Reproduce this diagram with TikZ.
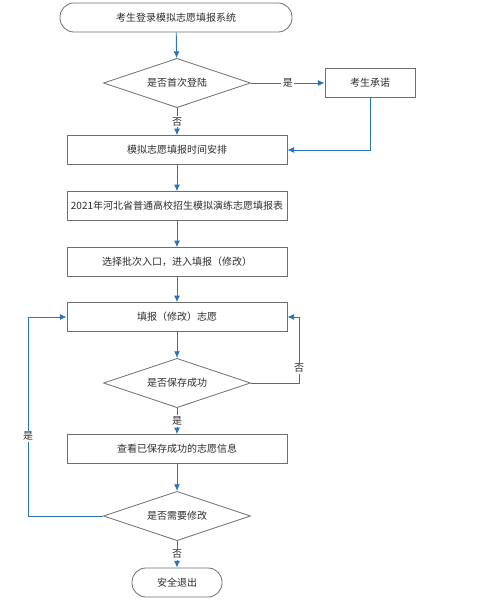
\documentclass[tikz,border=0pt]{standalone}
\usepackage{fontspec}
\newfontfamily\cjk{Noto Sans CJK SC}
\usetikzlibrary{shapes.geometric,arrows.meta}
\definecolor{lineblue}{RGB}{40,118,184}
\definecolor{boxgray}{RGB}{110,110,110}
\definecolor{txtgray}{RGB}{45,45,45}
\tikzset{
  base/.style={draw=boxgray,line width=0.6pt,text=txtgray,inner sep=0pt,font=\cjk\fontsize{7.5}{9}\selectfont},
  procbox/.style={base,rectangle,minimum width=165pt,minimum height=21.5pt},
  smallbox/.style={base,rectangle,minimum width=67.5pt,minimum height=21.5pt},
  termbox/.style={base,rectangle,rounded corners=10.5pt,minimum height=21.75pt},
  decbox/.style={base,diamond,aspect=3,minimum width=110.25pt,minimum height=37pt},
  flow/.style={draw=lineblue,line width=0.7pt,-{Latex[length=5pt,width=4.5pt]}},
  lab/.style={fill=white,text=txtgray,inner sep=1pt,font=\cjk\fontsize{7.5}{9}\selectfont}
}
\begin{document}
\begin{tikzpicture}[x=0.75pt,y=-0.75pt]
\useasboundingbox (0,0) rectangle (483,600);
\node[termbox,minimum width=174pt] (t1) at (176,17.5) {考生登录模拟志愿填报系统};
\node[decbox] (d1) at (177,83) {是否首次登陆};
\node[smallbox] (cn) at (370,83) {考生承诺};
\node[procbox] (b1) at (177,150) {模拟志愿填报时间安排};
\node[procbox] (b2) at (177,206) {2021年河北省普通高校招生模拟演练志愿填报表};
\node[procbox] (b3) at (177,262) {选择批次入口，进入填报（修改）};
\node[procbox] (b4) at (177,317) {填报（修改）志愿};
\node[decbox] (d2) at (177,383) {是否保存成功};
\node[procbox] (b5) at (177,449) {查看已保存成功的志愿信息};
\node[decbox] (d3) at (177,516) {是否需要修改};
\node[termbox,minimum width=67.5pt] (t2) at (177,582.5) {安全退出};
\coordinate (r2) at (299,383);
\coordinate (l3) at (28,516);

\draw[flow] (t1) -- (d1);
\draw[flow] (d1.east) -- node[lab] {是} (cn.west);
\draw[flow] (cn.south) |- (b1.east);
\draw[flow] (d1.south) -- node[lab,pos=0.5] {否} (b1.north);
\draw[flow] (b1) -- (b2);
\draw[flow] (b2) -- (b3);
\draw[flow] (b3) -- (b4);
\draw[flow] (b4) -- (d2);
\draw[flow] (d2.east) -- (r2) |- node[lab,pos=0.11] {否} (b4.east);
\draw[flow] (d2.south) -- node[lab] {是} (b5.north);
\draw[flow] (b5) -- (d3);
\draw[flow] (d3.west) -- (l3) |- node[lab,pos=0.2] {是} (b4.west);
\draw[flow] (d3.south) -- node[lab] {否} (t2.north);
\end{tikzpicture}
\end{document}
